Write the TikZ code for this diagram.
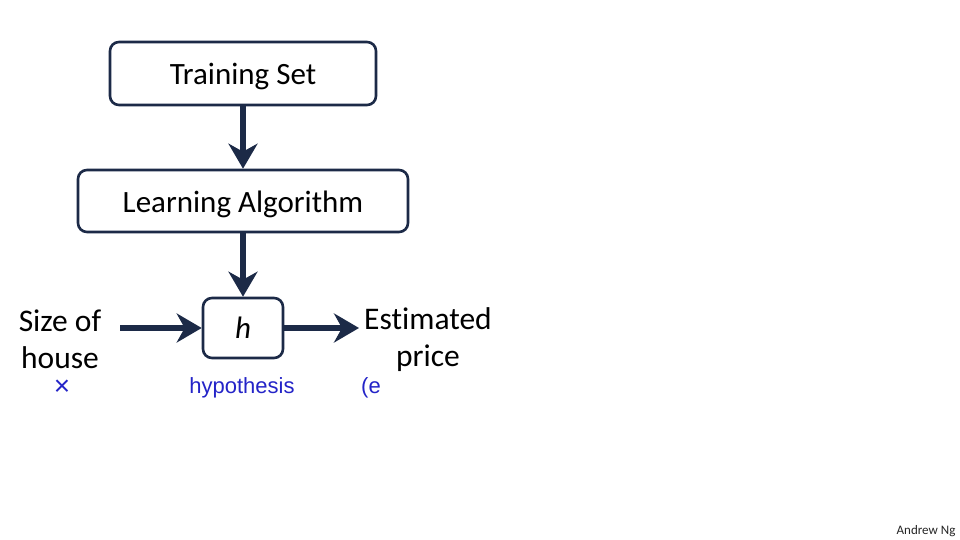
\documentclass[tikz,border=0pt]{standalone}
\usepackage{fontspec}
\setmainfont[Ligatures=NoCommon]{Carlito}
\newfontfamily\handfont{Liberation Sans}
\usetikzlibrary{arrows.meta}
\definecolor{navy}{HTML}{1C2A47}
\definecolor{pen}{HTML}{2424C8}
\tikzset{
  boxnode/.style={draw=navy, line width=2.6pt, rounded corners=9pt, fill=white,
    font=\fontsize{31}{37}\selectfont, text=black, inner sep=0pt},
  arr/.style={draw=navy, line width=6.5pt,
    -{Stealth[length=25pt,width=29pt,inset=8pt]}},
  lbl/.style={font=\fontsize{31.5}{37}\selectfont, align=center, text=black, inner sep=0pt},
  hand/.style={font=\handfont\fontsize{22}{26}\selectfont, text=pen, inner sep=0pt},
}
\begin{document}
\begin{tikzpicture}[x=1pt,y=-1pt]
\useasboundingbox[fill=white] (0,0) rectangle (960,540);
\node[boxnode, minimum width=266pt, minimum height=63pt] (ts) at (243,73.5) {\raisebox{-3pt}[\height][\depth]{Training Set}};
\node[boxnode, minimum width=330pt, minimum height=62pt] (la) at (243,201) {\raisebox{-3pt}[\height][\depth]{Learning Algorithm}};
\node[boxnode, minimum width=80pt, minimum height=60pt] (h) at (243,328) {\itshape h};
\node[lbl] (size) at (60,339) {Size of\\house};
\node[lbl] (est) at (428,339.5) {Estimated\\price};
\coordinate (a1) at (120,328);
\coordinate (a2) at (359,328);
\draw[arr] (ts.south) -- (la.north);
\draw[arr] (la.south) -- (h.north);
\draw[arr] (a1) -- (h.west);
\draw[arr] (h.east) -- (a2);
\node[hand, font=\handfont\fontsize{28}{28}\selectfont] (x) at (62,388) {×};
\node[hand] (hyp) at (242,388) {hypothesis};
\node[hand, anchor=west] (e) at (361,388) {(e};
\node[font=\fontsize{13}{15}\selectfont, text=black!85] (ng) at (926,531) {Andrew Ng};
\end{tikzpicture}
\end{document}
